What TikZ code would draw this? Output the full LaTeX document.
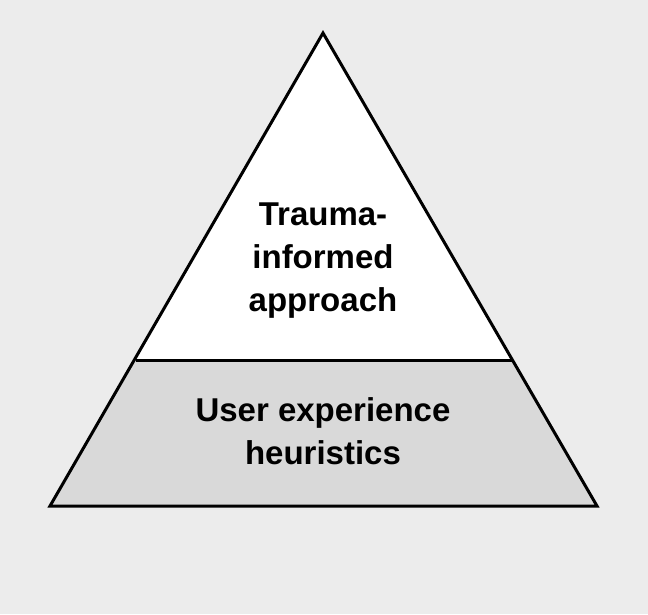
\documentclass[tikz,border=0pt]{standalone}
\usepackage{fontspec}
\setmainfont{Liberation Sans}
\begin{document}
\begin{tikzpicture}[x=1pt,y=-1pt,
  lbl/.style={font=\fontsize{33}{43}\selectfont\bfseries, align=center, text=black}]
\fill[gray!15!white, fill={rgb,255:red,236;green,236;blue,236}] (0,0) rectangle (648,614);
\useasboundingbox (0,0) rectangle (648,614);
\coordinate (A) at (323,33);
\coordinate (L) at (50,506);
\coordinate (R) at (597,506);
\coordinate (ML) at (136,360);
\coordinate (MR) at (512,360);
\fill[white] (A) -- (ML) -- (MR) -- cycle;
\fill[fill={rgb,255:red,217;green,217;blue,217}] (ML) -- (MR) -- (R) -- (L) -- cycle;
\draw[line width=3pt, line join=miter] (A) -- (L) -- (R) -- cycle;
\draw[line width=3pt] (ML) -- (MR);
\node[lbl] (top) at (323,261) {Trauma-\\informed\\approach};
\node[lbl] (bot) at (323,431) {User experience\\heuristics};
\end{tikzpicture}
\end{document}
